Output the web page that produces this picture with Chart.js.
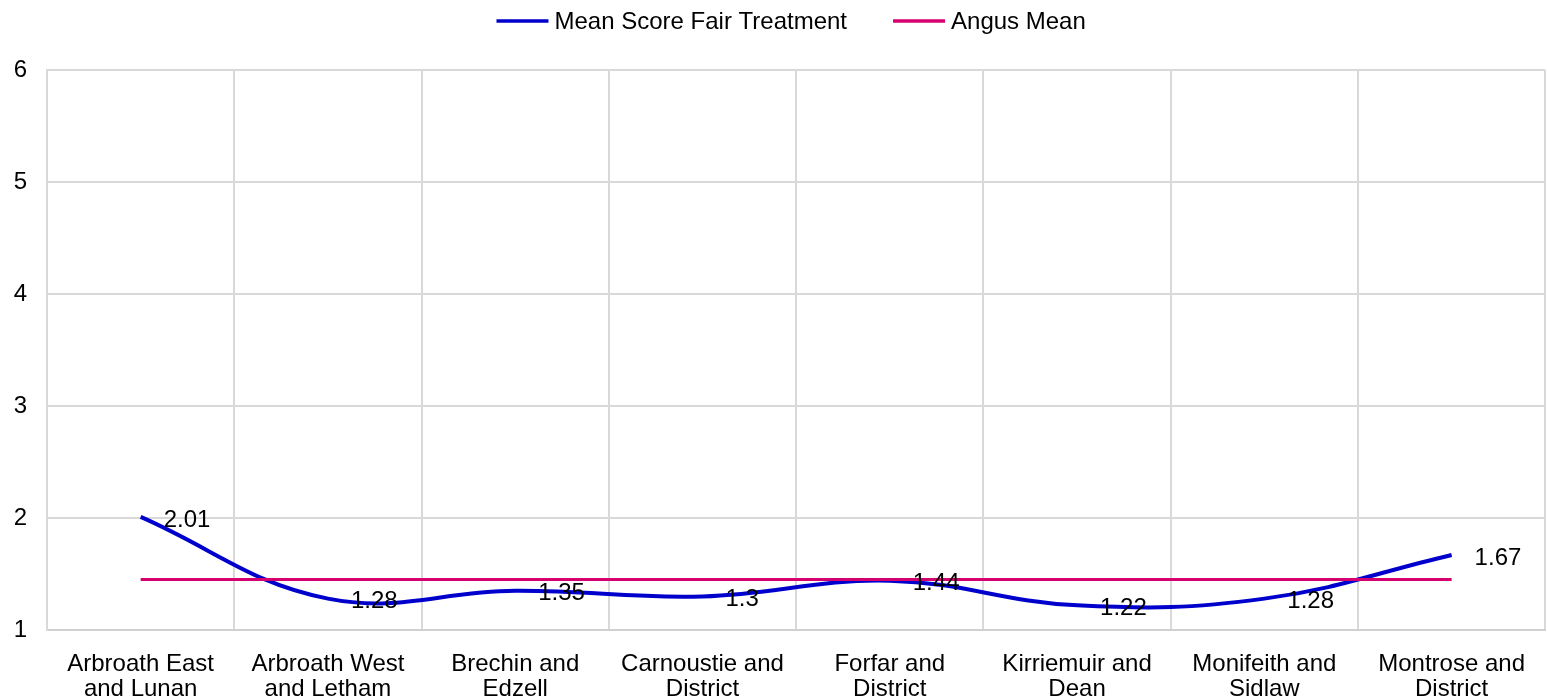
<!DOCTYPE html>
<html>
<head>
<meta charset="utf-8">
<script src="https://cdn.jsdelivr.net/npm/chart.js@4/dist/chart.umd.min.js"></script>
<style>
  html, body { margin: 0; padding: 0; background: #ffffff; }
  #wrap { position: relative; width: 1547px; height: 699px; }
</style>
</head>
<body>
<div id="wrap"><canvas id="c"></canvas></div>
<script>
// ---- data ----
const categories = [
  ['Arbroath East', 'and Lunan'],
  ['Arbroath West', 'and Letham'],
  ['Brechin and', 'Edzell'],
  ['Carnoustie and', 'District'],
  ['Forfar and', 'District'],
  ['Kirriemuir and', 'Dean'],
  ['Monifeith and', 'Sidlaw'],
  ['Montrose and', 'District']
];
const meanScoreFairTreatment = [2.01, 1.28, 1.35, 1.3, 1.44, 1.22, 1.28, 1.67];
const angusMean = [1.45, 1.45, 1.45, 1.45, 1.45, 1.45, 1.45, 1.45];
const seriesNames = ['Mean Score Fair Treatment', 'Angus Mean'];
const yTicks = [1, 2, 3, 4, 5, 6];

const FONT = '"Liberation Sans", Arial, sans-serif';
const FS = 24;

const valueLabels = {
  id: 'valueLabels',
  afterDatasetsDraw(chart) {
    const c = chart.ctx;
    const meta = chart.getDatasetMeta(0);
    c.save();
    c.font = FS + 'px ' + FONT;
    c.fillStyle = '#000000';
    c.textAlign = 'left';
    c.textBaseline = 'middle';
    meta.data.forEach((pt, i) => {
      c.fillText(String(chart.data.datasets[0].data[i]), pt.x + 23, pt.y + 3);
    });
    c.restore();
  }
};

const topLegend = {
  id: 'topLegend',
  afterDraw(chart) {
    const c = chart.ctx;
    c.save();
    c.font = FS + 'px ' + FONT;
    const sw = 52, gap = 6, itemGap = 46;
    const ds = chart.data.datasets;
    const widths = ds.map(d => c.measureText(d.label).width);
    let total = 0;
    widths.forEach((w, i) => { total += sw + gap + w + (i ? itemGap : 0); });
    const ca = chart.chartArea;
    let x = (ca.left + ca.right) / 2 - 5 - total / 2;
    const y = 21;
    ds.forEach((d, i) => {
      c.strokeStyle = d.borderColor;
      c.lineWidth = 3.5;
      c.beginPath();
      c.moveTo(x, y);
      c.lineTo(x + sw, y);
      c.stroke();
      c.fillStyle = '#000000';
      c.textAlign = 'left';
      c.textBaseline = 'middle';
      c.fillText(d.label, x + sw + gap, y + 1);
      x += sw + gap + widths[i] + itemGap;
    });
    c.restore();
  }
};

new Chart(document.getElementById('c'), {
  type: 'line',
  data: {
    labels: categories,
    datasets: [
      {
        label: seriesNames[0],
        data: meanScoreFairTreatment,
        borderColor: '#0000CC',
        backgroundColor: '#0000CC',
        borderWidth: 4,
        pointRadius: 0,
        tension: 0.4,
        fill: false,
        order: 1
      },
      {
        label: seriesNames[1],
        data: angusMean,
        borderColor: '#D4006F',
        backgroundColor: '#D4006F',
        borderWidth: 3,
        pointRadius: 0,
        tension: 0,
        fill: false,
        order: 0
      }
    ]
  },
  options: {
    responsive: true,
    maintainAspectRatio: false,
    animation: false,
    layout: { autoPadding: false, padding: { left: 13, right: 0, top: 70, bottom: 0 } },
    plugins: {
      legend: { display: false },
      tooltip: { enabled: false }
    },
    scales: {
      x: {
        offset: true,
        grid: { offset: true, color: '#d9d9d9', lineWidth: 2, drawTicks: false },
        border: { color: '#d0d0d0', width: 2 },
        afterFit(axis) { axis.height = 69; },
        ticks: {
          color: '#000000',
          font: { family: FONT, size: FS, lineHeight: 1.05 },
          padding: 22,
          maxRotation: 0,
          autoSkip: false
        }
      },
      y: {
        min: yTicks[0],
        max: yTicks[yTicks.length - 1],
        grid: { color: '#d9d9d9', lineWidth: 2, drawTicks: false },
        border: { color: '#d9d9d9', width: 2 },
        afterBuildTicks(axis) { axis.ticks = yTicks.map(v => ({ value: v })); },
        afterFit(axis) { axis.width = 34; },
        ticks: {
          color: '#000000',
          font: { family: FONT, size: FS },
          padding: 20
        }
      }
    }
  },
  plugins: [valueLabels, topLegend]
});
</script>
</body>
</html>
